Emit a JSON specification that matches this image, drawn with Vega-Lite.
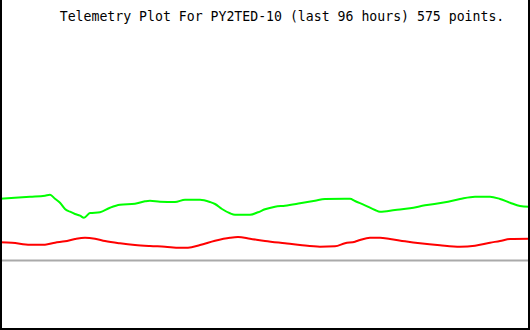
{
  "$schema": "https://vega.github.io/schema/vega-lite/v6.json",
  "width": 530,
  "height": 330,
  "autosize": {"type": "none"},
  "padding": 0,
  "background": "white",
  "config": {"view": {"stroke": null}},
  "data": {"values": [{}]},
  "datasets": {
    "telemetry": [
      {"x": 0, "v": 131.3, "s": "A"}, {"x": 30, "v": 133.3, "s": "A"}, {"x": 45, "v": 134.3, "s": "A"}, {"x": 50, "v": 135.3, "s": "A"}, {"x": 55, "v": 131.3, "s": "A"}, {"x": 60, "v": 127.3, "s": "A"}, {"x": 65, "v": 121, "s": "A"}, {"x": 70, "v": 118.3, "s": "A"}, {"x": 75, "v": 116, "s": "A"}, {"x": 80, "v": 114.3, "s": "A"}, {"x": 84, "v": 112.3, "s": "A"}, {"x": 90, "v": 117, "s": "A"}, {"x": 100, "v": 117.7, "s": "A"}, {"x": 110, "v": 122.3, "s": "A"}, {"x": 120, "v": 125.3, "s": "A"}, {"x": 135, "v": 126.3, "s": "A"}, {"x": 145, "v": 128.7, "s": "A"}, {"x": 150, "v": 129.3, "s": "A"}, {"x": 160, "v": 128.3, "s": "A"}, {"x": 175, "v": 128, "s": "A"}, {"x": 185, "v": 130.3, "s": "A"}, {"x": 200, "v": 130.3, "s": "A"}, {"x": 210, "v": 128, "s": "A"}, {"x": 215, "v": 126, "s": "A"}, {"x": 222, "v": 121, "s": "A"}, {"x": 230, "v": 116.7, "s": "A"}, {"x": 235, "v": 115.3, "s": "A"}, {"x": 250, "v": 115.3, "s": "A"}, {"x": 258, "v": 117.7, "s": "A"}, {"x": 265, "v": 120.7, "s": "A"}, {"x": 275, "v": 123.3, "s": "A"}, {"x": 285, "v": 124.3, "s": "A"}, {"x": 300, "v": 126.7, "s": "A"}, {"x": 315, "v": 129.3, "s": "A"}, {"x": 325, "v": 131, "s": "A"}, {"x": 345, "v": 131.3, "s": "A"}, {"x": 350, "v": 131.3, "s": "A"}, {"x": 355, "v": 129, "s": "A"}, {"x": 365, "v": 124.7, "s": "A"}, {"x": 375, "v": 120, "s": "A"}, {"x": 380, "v": 118.3, "s": "A"}, {"x": 395, "v": 120, "s": "A"}, {"x": 410, "v": 121.7, "s": "A"}, {"x": 425, "v": 124.7, "s": "A"}, {"x": 445, "v": 127.7, "s": "A"}, {"x": 460, "v": 131, "s": "A"}, {"x": 475, "v": 133.3, "s": "A"}, {"x": 490, "v": 133.3, "s": "A"}, {"x": 500, "v": 131, "s": "A"}, {"x": 510, "v": 127.3, "s": "A"}, {"x": 520, "v": 124, "s": "A"}, {"x": 529, "v": 123.3, "s": "A"},
      {"x": 0, "v": 87.7, "s": "B"}, {"x": 12, "v": 87.3, "s": "B"}, {"x": 30, "v": 85.3, "s": "B"}, {"x": 45, "v": 85.3, "s": "B"}, {"x": 55, "v": 87.3, "s": "B"}, {"x": 65, "v": 88.7, "s": "B"}, {"x": 75, "v": 91, "s": "B"}, {"x": 85, "v": 92.3, "s": "B"}, {"x": 95, "v": 91.3, "s": "B"}, {"x": 105, "v": 89, "s": "B"}, {"x": 120, "v": 86.7, "s": "B"}, {"x": 135, "v": 85, "s": "B"}, {"x": 150, "v": 84, "s": "B"}, {"x": 165, "v": 83.3, "s": "B"}, {"x": 180, "v": 82.3, "s": "B"}, {"x": 188, "v": 82.3, "s": "B"}, {"x": 200, "v": 85, "s": "B"}, {"x": 215, "v": 89.3, "s": "B"}, {"x": 230, "v": 92.3, "s": "B"}, {"x": 238, "v": 93, "s": "B"}, {"x": 250, "v": 91.3, "s": "B"}, {"x": 265, "v": 89, "s": "B"}, {"x": 285, "v": 86.7, "s": "B"}, {"x": 300, "v": 85, "s": "B"}, {"x": 320, "v": 83.3, "s": "B"}, {"x": 335, "v": 83.7, "s": "B"}, {"x": 345, "v": 86.7, "s": "B"}, {"x": 355, "v": 88.3, "s": "B"}, {"x": 360, "v": 90, "s": "B"}, {"x": 370, "v": 92.3, "s": "B"}, {"x": 380, "v": 92.3, "s": "B"}, {"x": 390, "v": 91, "s": "B"}, {"x": 405, "v": 88.7, "s": "B"}, {"x": 420, "v": 86.7, "s": "B"}, {"x": 440, "v": 84.7, "s": "B"}, {"x": 460, "v": 83.3, "s": "B"}, {"x": 475, "v": 84.3, "s": "B"}, {"x": 490, "v": 87.3, "s": "B"}, {"x": 500, "v": 89, "s": "B"}, {"x": 510, "v": 91, "s": "B"}, {"x": 529, "v": 91.3, "s": "B"}
    ]
  },
  "layer": [
    {
      "mark": {"type": "rule", "color": "#aaaaaa", "strokeWidth": 2},
      "encoding": {"y": {"datum": 69.5, "type": "quantitative", "scale": {"domain": [0, 330]}, "axis": null}}
    },
    {
      "data": {"name": "telemetry"},
      "mark": {"type": "line", "strokeWidth": 2, "interpolate": "monotone"},
      "encoding": {
        "x": {"field": "x", "type": "quantitative", "scale": {"domain": [0, 530], "nice": false, "zero": false}, "axis": null},
        "y": {"field": "v", "type": "quantitative", "scale": {"domain": [0, 330], "nice": false}, "axis": null},
        "color": {"field": "s", "type": "nominal", "scale": {"domain": ["A", "B"], "range": ["#00ff00", "#ff0000"]}, "legend": null}
      }
    },
    {
      "mark": {"type": "rule", "color": "black", "strokeWidth": 2},
      "encoding": {"x": {"datum": 1, "type": "quantitative"}}
    },
    {
      "mark": {"type": "rule", "color": "black", "strokeWidth": 2},
      "encoding": {"x": {"datum": 529, "type": "quantitative"}}
    },
    {
      "mark": {"type": "rule", "color": "black", "strokeWidth": 2},
      "encoding": {"y": {"datum": 1, "type": "quantitative"}}
    },
    {
      "mark": {"type": "text", "font": "DejaVu Sans Mono", "fontSize": 13.2, "color": "black", "align": "center", "baseline": "alphabetic"},
      "encoding": {
        "x": {"datum": 282, "type": "quantitative"},
        "y": {"datum": 309, "type": "quantitative"},
        "text": {"value": "Telemetry Plot For PY2TED-10 (last 96 hours) 575 points."}
      }
    }
  ]
}
